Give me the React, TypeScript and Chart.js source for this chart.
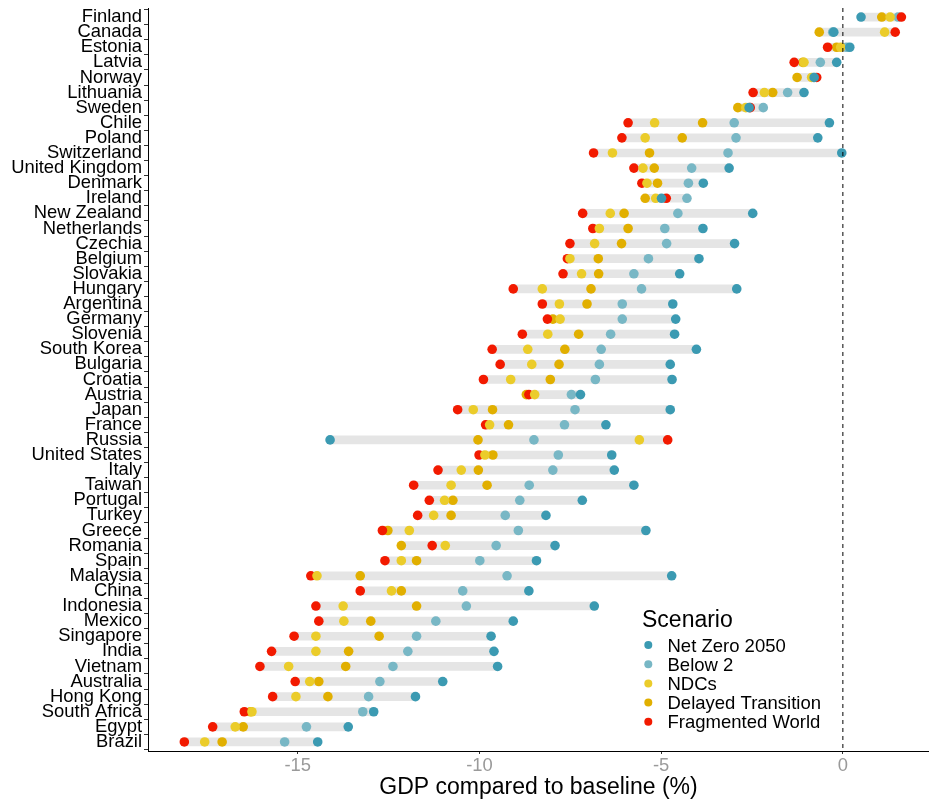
import React, { useEffect, useRef } from "react";
import { Chart, registerables } from "chart.js";

Chart.register(...registerables);

const countries = [
  "Finland", "Canada", "Estonia", "Latvia", "Norway", "Lithuania", "Sweden", "Chile", "Poland", "Switzerland",
  "United Kingdom", "Denmark", "Ireland", "New Zealand", "Netherlands", "Czechia", "Belgium", "Slovakia", "Hungary", "Argentina",
  "Germany", "Slovenia", "South Korea", "Bulgaria", "Croatia", "Austria", "Japan", "France", "Russia", "United States",
  "Italy", "Taiwan", "Portugal", "Turkey", "Greece", "Romania", "Spain", "Malaysia", "China", "Indonesia",
  "Mexico", "Singapore", "India", "Vietnam", "Australia", "Hong Kong", "South Africa", "Egypt", "Brazil",
];

const netZero2050 = [
  0.5, -0.25, 0.19, -0.17, -0.79, -1.07, -2.58, -0.37, -0.69, -0.03,
  -3.13, -3.84, -4.99, -2.48, -3.85, -2.98, -3.96, -4.49, -2.92, -4.68,
  -4.6, -4.63, -4.03, -4.75, -4.7, -7.22, -4.75, -6.52, -14.11, -6.36,
  -6.29, -5.75, -7.17, -8.17, -5.42, -7.92, -8.43, -4.71, -8.64, -6.84,
  -9.07, -9.68, -9.6, -9.5, -11.01, -11.76, -12.91, -13.61, -14.45,
];

const below2 = [
  1.52, -0.28, 0.1, -0.62, -0.8, -1.52, -2.19, -2.99, -2.94, -3.16,
  -4.16, -4.25, -4.29, -4.54, -4.9, -4.85, -5.35, -5.75, -5.54, -6.07,
  -6.07, -6.39, -6.65, -6.7, -6.81, -7.47, -7.37, -7.66, -8.5, -7.83,
  -7.98, -8.63, -8.89, -9.29, -8.93, -9.54, -9.99, -9.24, -10.46, -10.36,
  -11.2, -11.73, -11.97, -12.38, -12.74, -13.05, -13.21, -14.76, -15.36,
];

const ndcs = [
  1.3, 1.15, -0.06, -1.07, -0.86, -2.16, -2.67, -5.18, -5.44, -6.34,
  -5.5, -5.39, -5.15, -6.4, -6.7, -6.83, -7.51, -7.19, -8.27, -7.8,
  -7.78, -8.12, -8.67, -8.56, -9.14, -8.48, -10.17, -9.72, -5.6, -9.85,
  -10.5, -10.78, -10.96, -11.26, -11.93, -10.94, -12.15, -14.47, -12.42, -13.75,
  -13.73, -14.5, -14.5, -15.25, -14.67, -15.05, -16.26, -16.72, -17.56,
];

const delayedTransition = [
  1.07, -0.65, -0.17, -1.1, -1.26, -1.93, -2.89, -3.86, -4.42, -5.32,
  -5.19, -5.1, -5.44, -6.02, -5.91, -6.09, -6.73, -6.72, -6.93, -7.04,
  -7.98, -7.27, -7.65, -7.81, -8.05, -8.71, -9.64, -9.2, -10.04, -9.63,
  -10.03, -9.79, -10.73, -10.78, -12.52, -12.15, -11.73, -13.28, -12.15, -11.73,
  -12.99, -12.76, -13.6, -13.68, -14.42, -14.17, -16.3, -16.5, -17.08,
];

const fragmentedWorld = [
  1.61, 1.44, -0.42, -1.34, -0.72, -2.47, -2.55, -5.91, -6.08, -6.86,
  -5.75, -5.53, -4.86, -7.16, -6.88, -7.51, -7.58, -7.7, -9.07, -8.27,
  -8.13, -8.82, -9.65, -9.43, -9.89, -8.64, -10.6, -9.83, -4.82, -10.01,
  -11.14, -11.81, -11.38, -11.7, -12.67, -11.3, -12.6, -14.64, -13.28, -14.5,
  -14.42, -15.1, -15.72, -16.04, -15.07, -15.69, -16.47, -17.34, -18.12,
];

const xTicks = [-15, -10, -5, 0];
const X_MIN = -19.12;
const X_MAX = 2.37;

const scenarioLabels = ["Net Zero 2050", "Below 2", "NDCs", "Delayed Transition", "Fragmented World"];
const scenarioValues = [netZero2050, below2, ndcs, delayedTransition, fragmentedWorld];
const scenarioColors = ["#3B9AB2", "#78B7C5", "#EBCC2A", "#E1AF00", "#F21A00"];
// drawing order (lower = drawn on top)
const scenarioOrder = [1, 4, 2, 5, 3];

const FONT = '"Liberation Sans", Arial, Helvetica, sans-serif';

const legendPlugin = {
  id: "scenarioLegend",
  afterDraw(chart: any) {
    const ctx = chart.ctx;
    ctx.save();
    ctx.textAlign = "left";
    ctx.textBaseline = "alphabetic";
    ctx.fillStyle = "#000";
    ctx.font = `23px ${FONT}`;
    ctx.fillText("Scenario", 642, 627);
    ctx.font = `18.5px ${FONT}`;
    scenarioLabels.forEach((label, i) => {
      const cy = 645 + i * 19.2;
      ctx.beginPath();
      ctx.arc(648.3, cy, 4, 0, Math.PI * 2);
      ctx.fillStyle = scenarioColors[i];
      ctx.fill();
      ctx.fillStyle = "#000";
      ctx.fillText(label, 667.5, cy + 6.6);
    });
    ctx.restore();
  },
};

export default function App() {
  const canvasRef = useRef<HTMLCanvasElement | null>(null);

  useEffect(() => {
    const canvas = canvasRef.current;
    if (!canvas) return;
    Chart.defaults.font.family = FONT;

    const ranges = countries.map((_, i) => {
      const vals = scenarioValues.map((arr) => arr[i]);
      return { y: i, x: [Math.min(...vals), Math.max(...vals)] };
    });

    const pointSets = scenarioLabels.map((label, s) => ({
      type: "scatter" as const,
      label,
      data: countries.map((_, i) => ({ x: scenarioValues[s][i], y: i })),
      backgroundColor: scenarioColors[s],
      borderColor: scenarioColors[s],
      borderWidth: 0,
      pointRadius: 4.8,
      pointHoverRadius: 4.8,
      pointBorderWidth: 0,
      order: scenarioOrder[s],
    }));

    const chart = new Chart(canvas, {
      type: "bar",
      data: {
        datasets: [
          {
            type: "scatter" as const,
            label: "zero",
            data: [
              { x: 0, y: -0.6 },
              { x: 0, y: countries.length - 0.4 },
            ],
            showLine: true,
            borderColor: "#000",
            borderWidth: 1,
            borderDash: [4, 4],
            pointRadius: 0,
            order: 0,
          } as any,
          ...pointSets,
          {
            type: "bar" as const,
            label: "range",
            data: ranges as any,
            backgroundColor: "#E5E5E5",
            borderWidth: 0,
            borderSkipped: false,
            barThickness: 8,
            order: 10,
          } as any,
        ],
      },
      options: {
        indexAxis: "y",
        responsive: false,
        animation: false,
        events: [],
        layout: { autoPadding: false, padding: { top: 8, left: 0, right: 0, bottom: 0 } },
        plugins: {
          legend: { display: false },
          tooltip: { enabled: false },
        },
        scales: {
          x: {
            type: "linear",
            position: "bottom",
            min: X_MIN,
            max: X_MAX,
            offset: false,
            afterBuildTicks: (s: any) => {
              s.ticks = xTicks.map((v) => ({ value: v }));
            },
            afterFit: (s: any) => {
              s.height = 52;
              s.paddingLeft = 0;
              s.paddingRight = 0;
            },
            ticks: {
              color: "#9A9A9A",
              font: { size: 18.4, family: FONT },
              padding: 1,
              maxRotation: 0,
              autoSkip: false,
            },
            grid: {
              drawOnChartArea: false,
              drawTicks: true,
              tickLength: 3,
              color: "#333",
              tickColor: "#333",
            },
            border: { display: true, color: "#000", width: 1 },
            title: {
              display: true,
              text: "GDP compared to baseline (%)",
              color: "#000",
              font: { size: 23, family: FONT },
              padding: { top: 0, bottom: 2 },
            },
          },
          y: {
            type: "linear",
            position: "left",
            min: -0.6,
            max: countries.length - 0.4,
            reverse: true,
            offset: false,
            afterBuildTicks: (s: any) => {
              s.ticks = countries.map((_, i) => ({ value: i }));
            },
            afterFit: (s: any) => {
              s.width = 148;
              s.paddingTop = 0;
              s.paddingBottom = 0;
            },
            ticks: {
              callback: (v: any) => countries[Math.round(Number(v))] ?? "",
              color: "#000",
              font: { size: 18.4, family: FONT },
              padding: 2,
              autoSkip: false,
            },
            grid: {
              drawOnChartArea: false,
              drawTicks: true,
              tickLength: 4,
              color: "#333",
              tickColor: "#333",
            },
            border: { display: true, color: "#000", width: 1 },
          },
        },
      } as any,
      plugins: [legendPlugin],
    });

    return () => chart.destroy();
  }, []);

  return (
    <div style={{ position: "absolute", left: 0, top: 0, width: 929, height: 803, background: "#fff" }}>
      <canvas ref={canvasRef} width={929} height={803} />
    </div>
  );
}
